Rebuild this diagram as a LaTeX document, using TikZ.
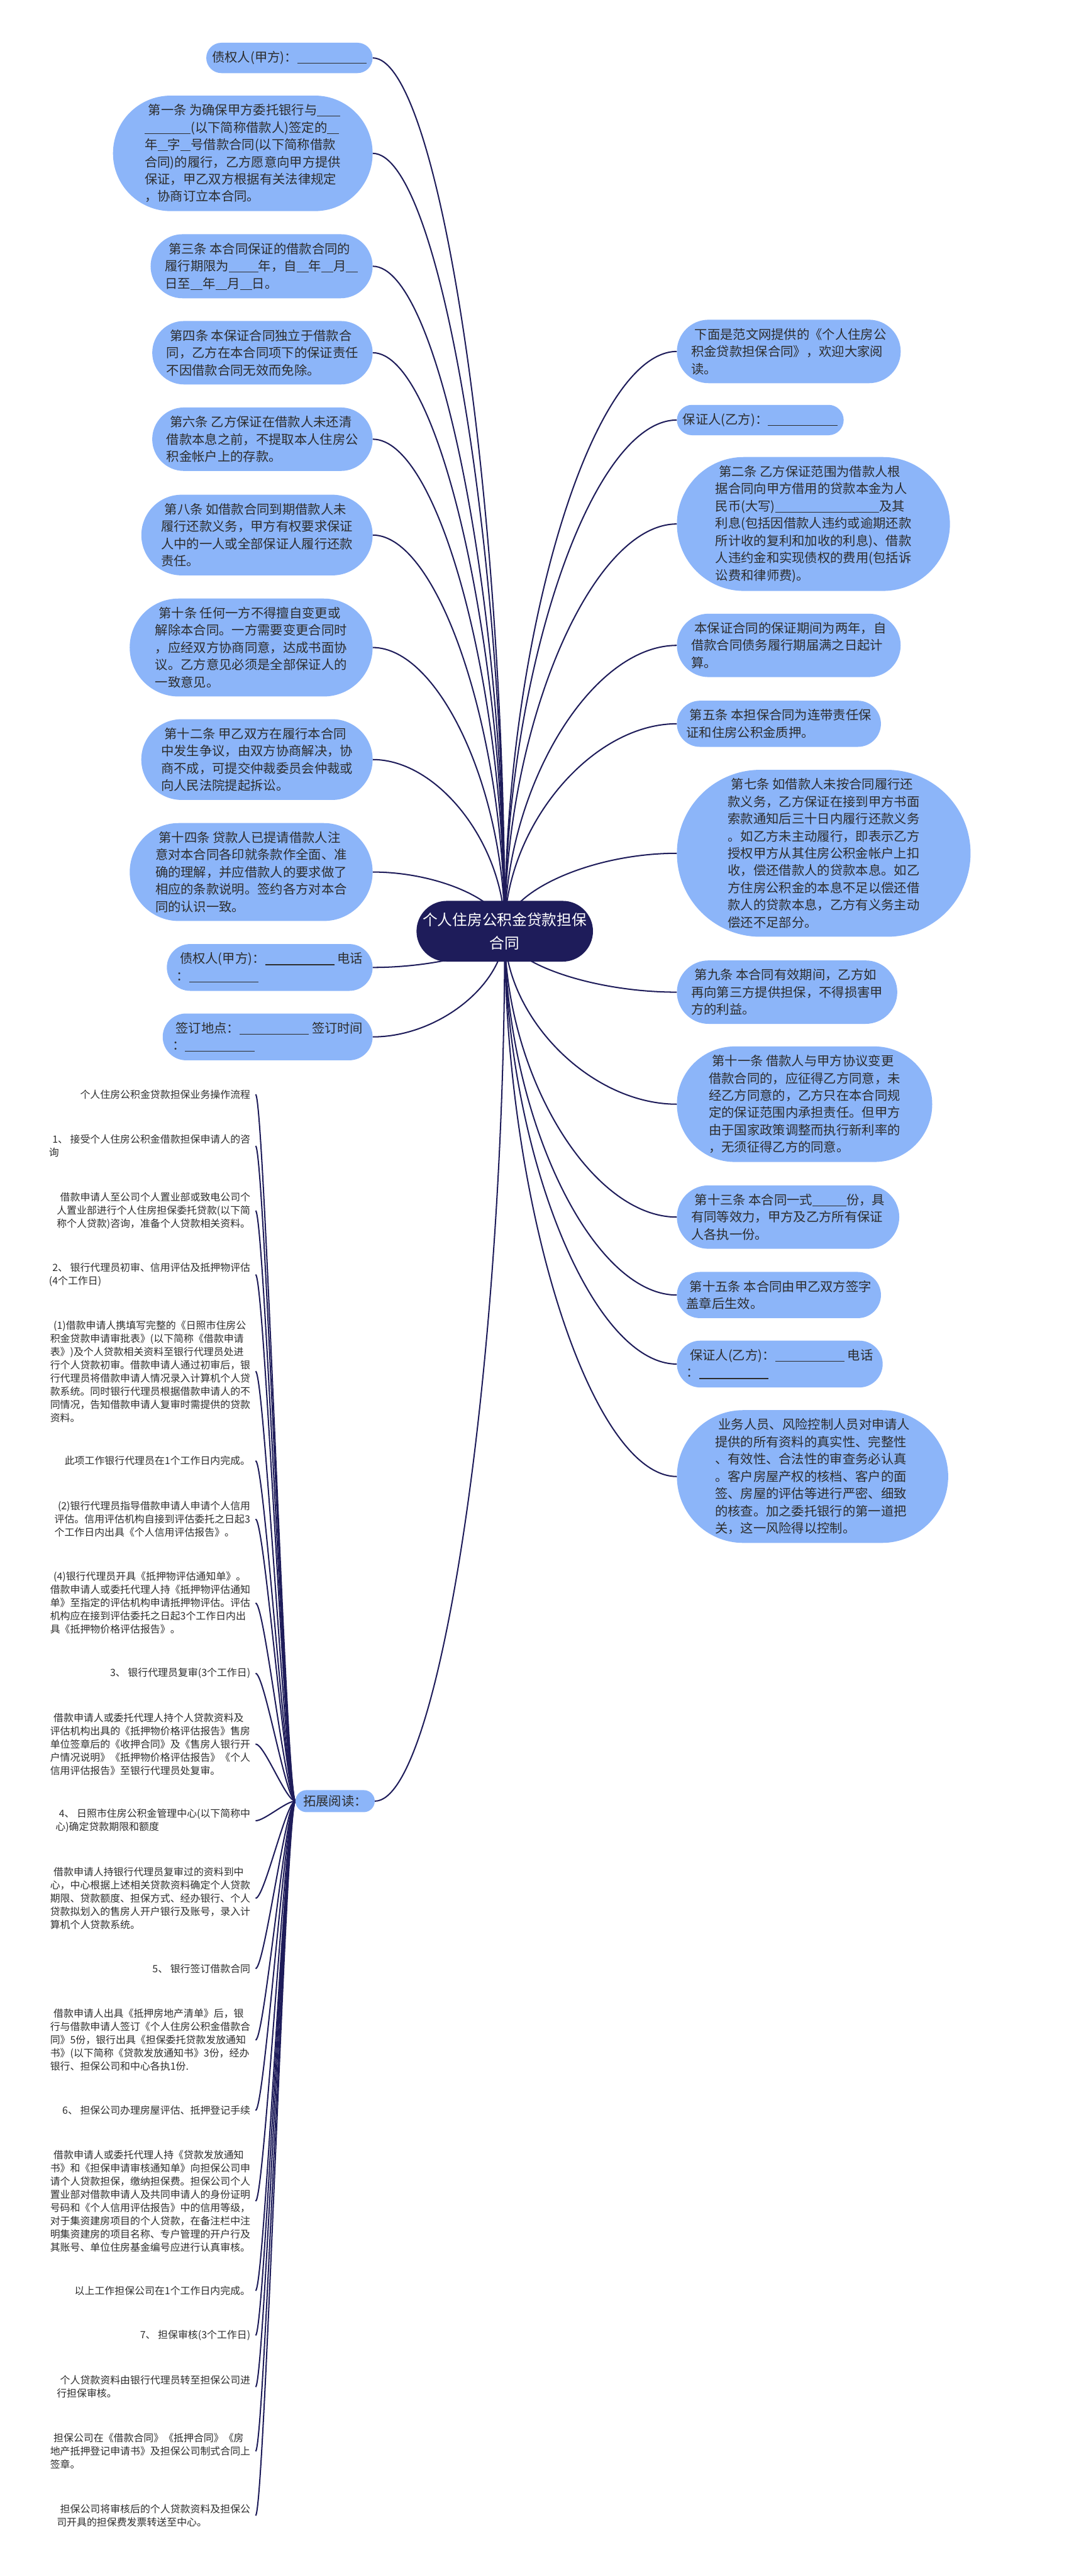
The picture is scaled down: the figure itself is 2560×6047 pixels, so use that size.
\documentclass[tikz,border=0pt]{standalone}
\usepackage{fontspec}
\setmainfont{Noto Sans CJK SC}
\usetikzlibrary{shapes.misc,calc,backgrounds}
\definecolor{nblue}{RGB}{140,181,249}
\definecolor{navy}{RGB}{30,28,90}
\definecolor{txt}{RGB}{45,45,45}
\newcommand\blank[1]{\rule[-4pt]{#1pt}{1.8pt}}
\newcommand\ind{\hspace*{8pt}}
\begin{document}
\begin{tikzpicture}[x=1pt,y=-1pt,
  bnode/.style={rounded rectangle, fill=nblue, text=txt, align=left, inner xsep=10pt, inner ysep=20pt, font=\fontsize{30}{40.5}\selectfont},
  lnode/.style={bnode, anchor=east},
  rnode/.style={bnode, anchor=west},
  item/.style={align=left, text=txt, inner sep=0pt, anchor=east, font=\fontsize{23.5}{31}\selectfont},
  conn/.style={draw=navy, line width=3pt}]
\useasboundingbox (0,0) rectangle (2560,6047);

% root
\node[rounded rectangle, fill=navy, text=white, align=center, inner xsep=0pt, inner ysep=28pt, font=\fontsize{35}{54}\selectfont] (root) at (1185,2186) {个人住房公积金贷款担保\\合同};

% left nodes
\node[lnode] (L1) at (875,136) {债权人(甲方)：\blank{163}};
\node[lnode] (L2) at (875,360) {\ind 第一条 为确保甲方委托银行与\blank{54}\\\blank{108}(以下简称借款人)签定的\blank{28}\\年\blank{24}字\blank{24}号借款合同(以下简称借款\\合同)的履行，乙方愿意向甲方提供\\保证，甲乙双方根据有关法律规定\\，协商订立本合同。};
\node[lnode] (L3) at (875,625) {\ind 第三条 本合同保证的借款合同的\\履行期限为\blank{69}年，自\blank{28}年\blank{28}月\blank{28}\\日至\blank{28}年\blank{28}月\blank{28}日。};
\node[lnode] (L4) at (875,828) {\ind 第四条 本保证合同独立于借款合\\同，乙方在本合同项下的保证责任\\不因借款合同无效而免除。};
\node[lnode] (L5) at (875,1031) {\ind 第六条 乙方保证在借款人未还清\\借款本息之前，不提取本人住房公\\积金帐户上的存款。};
\node[lnode] (L6) at (875,1256) {\ind 第八条 如借款合同到期借款人未\\履行还款义务，甲方有权要求保证\\人中的一人或全部保证人履行还款\\责任。};
\node[lnode] (L7) at (875,1520) {\ind 第十条 任何一方不得擅自变更或\\解除本合同。一方需要变更合同时\\，应经双方协商同意，达成书面协\\议。乙方意见必须是全部保证人的\\一致意见。};
\node[lnode] (L8) at (875,1783) {\ind 第十二条 甲乙双方在履行本合同\\中发生争议，由双方协商解决，协\\商不成，可提交仲裁委员会仲裁或\\向人民法院提起拆讼。};
\node[lnode] (L9) at (875,2047) {\ind 第十四条 贷款人已提请借款人注\\意对本合同各印就条款作全面、准\\确的理解，并应借款人的要求做了\\相应的条款说明。签约各方对本合\\同的认识一致。};
\node[lnode] (L10) at (875,2271) {\ind 债权人(甲方)：\blank{163} 电话\\：\blank{163}};
\node[lnode] (L11) at (875,2434) {\ind 签订地点：\blank{163} 签订时间\\：\blank{163}};

% right nodes
\node[rnode] (R1) at (1589,825) {\ind 下面是范文网提供的《个人住房公\\积金贷款担保合同》，欢迎大家阅\\读。};
\node[rnode] (R2) at (1589,986) {保证人(乙方)：\blank{164}};
\node[rnode] (R3) at (1589,1230) {\ind 第二条 乙方保证范围为借款人根\\据合同向甲方借用的贷款本金为人\\民币(大写)\blank{244}及其\\利息(包括因借款人违约或逾期还款\\所计收的复利和加收的利息)、借款\\人违约金和实现债权的费用(包括诉\\讼费和律师费)。};
\node[rnode] (R4) at (1589,1515) {\ind 本保证合同的保证期间为两年，自\\借款合同债务履行期届满之日起计\\算。};
\node[rnode] (R5) at (1589,1699) {\ind 第五条 本担保合同为连带责任保\\证和住房公积金质押。};
\node[rnode] (R6) at (1589,2003) {\ind 第七条 如借款人未按合同履行还\\款义务，乙方保证在接到甲方书面\\索款通知后三十日内履行还款义务\\。如乙方未主动履行，即表示乙方\\授权甲方从其住房公积金帐户上扣\\收，偿还借款人的贷款本息。如乙\\方住房公积金的本息不足以偿还借\\款人的贷款本息，乙方有义务主动\\偿还不足部分。};
\node[rnode] (R7) at (1589,2329) {\ind 第九条 本合同有效期间，乙方如\\再向第三方提供担保，不得损害甲\\方的利益。};
\node[rnode] (R8) at (1589,2592) {\ind 第十一条 借款人与甲方协议变更\\借款合同的，应征得乙方同意，未\\经乙方同意的，乙方只在本合同规\\定的保证范围内承担责任。但甲方\\由于国家政策调整而执行新利率的\\，无须征得乙方的同意。};
\node[rnode] (R9) at (1589,2857) {\ind 第十三条 本合同一式\blank{80}份，具\\有同等效力，甲方及乙方所有保证\\人各执一份。};
\node[rnode] (R10) at (1589,3040) {\ind 第十五条 本合同由甲乙双方签字\\盖章后生效。};
\node[rnode] (R11) at (1589,3202) {\ind 保证人(乙方)：\blank{163} 电话\\：\blank{163}};
\node[rnode] (R12) at (1589,3466) {\ind 业务人员、风险控制人员对申请人\\提供的所有资料的真实性、完整性\\、有效性、合法性的审查务必认真\\。客户房屋产权的核档、客户的面\\签、房屋的评估等进行严密、细致\\的核查。加之委托银行的第一道把\\关，这一风险得以控制。};

% extension node
\node[rounded rectangle, fill=nblue, text=txt, inner xsep=14pt, inner ysep=12pt, font=\fontsize{30}{36}\selectfont, anchor=east] (ext) at (880,4228) {拓展阅读：};

% list items
\node[item] (I0) at (588,2569) {个人住房公积金贷款担保业务操作流程};
\node[item] (I1) at (588,2690) {\ind 1、 接受个人住房公积金借款担保申请人的咨\\询};
\node[item] (I2) at (588,2842) {\ind 借款申请人至公司个人置业部或致电公司个\\人置业部进行个人住房担保委托贷款(以下简\\称个人贷款)咨询，准备个人贷款相关资料。};
\node[item] (I3) at (588,2992) {\ind 2、 银行代理员初审、信用评估及抵押物评估\\(4个工作日)};
\node[item] (I4) at (588,3219) {\ind(1)借款申请人携填写完整的《日照市住房公\\积金贷款申请审批表》(以下简称《借款申请\\表》)及个人贷款相关资料至银行代理员处进\\行个人贷款初审。借款申请人通过初审后，银\\行代理员将借款申请人情况录入计算机个人贷\\款系统。同时银行代理员根据借款申请人的不\\同情况，告知借款申请人复审时需提供的贷款\\资料。};
\node[item] (I5) at (588,3429) {此项工作银行代理员在1个工作日内完成。};
\node[item] (I6) at (588,3566) {\ind(2)银行代理员指导借款申请人申请个人信用\\评估。信用评估机构自接到评估委托之日起3\\个工作日内出具《个人信用评估报告》。};
\node[item] (I7) at (588,3763) {\ind(4)银行代理员开具《抵押物评估通知单》。\\借款申请人或委托代理人持《抵押物评估通知\\单》至指定的评估机构申请抵押物评估。评估\\机构应在接到评估委托之日起3个工作日内出\\具《抵押物价格评估报告》。};
\node[item] (I8) at (588,3928) {3、 银行代理员复审(3个工作日)};
\node[item] (I9) at (588,4094) {\ind 借款申请人或委托代理人持个人贷款资料及\\评估机构出具的《抵押物价格评估报告》售房\\单位签章后的《收押合同》及《售房人银行开\\户情况说明》《抵押物价格评估报告》《个人\\信用评估报告》至银行代理员处复审。};
\node[item] (I10) at (588,4274) {\ind 4、 日照市住房公积金管理中心(以下简称中\\心)确定贷款期限和额度};
\node[item] (I11) at (588,4456) {\ind 借款申请人持银行代理员复审过的资料到中\\心，中心根据上述相关贷款资料确定个人贷款\\期限、贷款额度、担保方式、经办银行、个人\\贷款拟划入的售房人开户银行及账号，录入计\\算机个人贷款系统。};
\node[item] (I12) at (588,4621) {5、 银行签订借款合同};
\node[item] (I13) at (588,4789) {\ind 借款申请人出具《抵押房地产清单》后，银\\行与借款申请人签订《个人住房公积金借款合\\同》5份，银行出具《担保委托贷款发放通知\\书》(以下简称《贷款发放通知书》3份，经办\\银行、担保公司和中心各执1份.};
\node[item] (I14) at (588,4954) {6、 担保公司办理房屋评估、抵押登记手续};
\node[item] (I15) at (588,5167) {\ind 借款申请人或委托代理人持《贷款发放通知\\书》和《担保申请审核通知单》向担保公司申\\请个人贷款担保，缴纳担保费。担保公司个人\\置业部对借款申请人及共同申请人的身份证明\\号码和《个人信用评估报告》中的信用等级，\\对于集资建房项目的个人贷款，在备注栏中注\\明集资建房的项目名称、专户管理的开户行及\\其账号、单位住房基金编号应进行认真审核。};
\node[item] (I16) at (588,5377) {以上工作担保公司在1个工作日内完成。};
\node[item] (I17) at (588,5482) {7、 担保审核(3个工作日)};
\node[item] (I18) at (588,5603) {\ind 个人贷款资料由银行代理员转至担保公司进\\行担保审核。};
\node[item] (I19) at (588,5754) {\ind 担保公司在《借款合同》《抵押合同》《房\\地产抵押登记申请书》及担保公司制式合同上\\签章。};
\node[item] (I20) at (588,5905) {\ind 担保公司将审核后的个人贷款资料及担保公\\司开具的担保费发票转送至中心。};

\begin{pgfonlayer}{background}
\fill[white] (0,0) rectangle (2560,6047);
\foreach \n in {L1,L2,L3,L4,L5,L6,L7,L8,L9,L10,L11,ext} {
  \coordinate (m) at ($(root.center)!.5!(\n.east)$);
  \draw[conn] (root.center) .. controls (root.center |- m) and (m |- \n.east) .. (\n.east);
}
\foreach \n in {R1,R2,R3,R4,R5,R6,R7,R8,R9,R10,R11,R12} {
  \coordinate (m) at ($(root.center)!.5!(\n.west)$);
  \draw[conn] (root.center) .. controls (root.center |- m) and (m |- \n.west) .. (\n.west);
}
\foreach \n in {I0,I1,I2,I3,I4,I5,I6,I7,I8,I9,I10,I11,I12,I13,I14,I15,I16,I17,I18,I19,I20} {
  \draw[conn] (ext.west) .. controls ([xshift=-22pt]ext.west) and ([xshift=33pt]\n.east) .. ([xshift=12pt]\n.east);
}
\end{pgfonlayer}
\end{tikzpicture}
\end{document}
